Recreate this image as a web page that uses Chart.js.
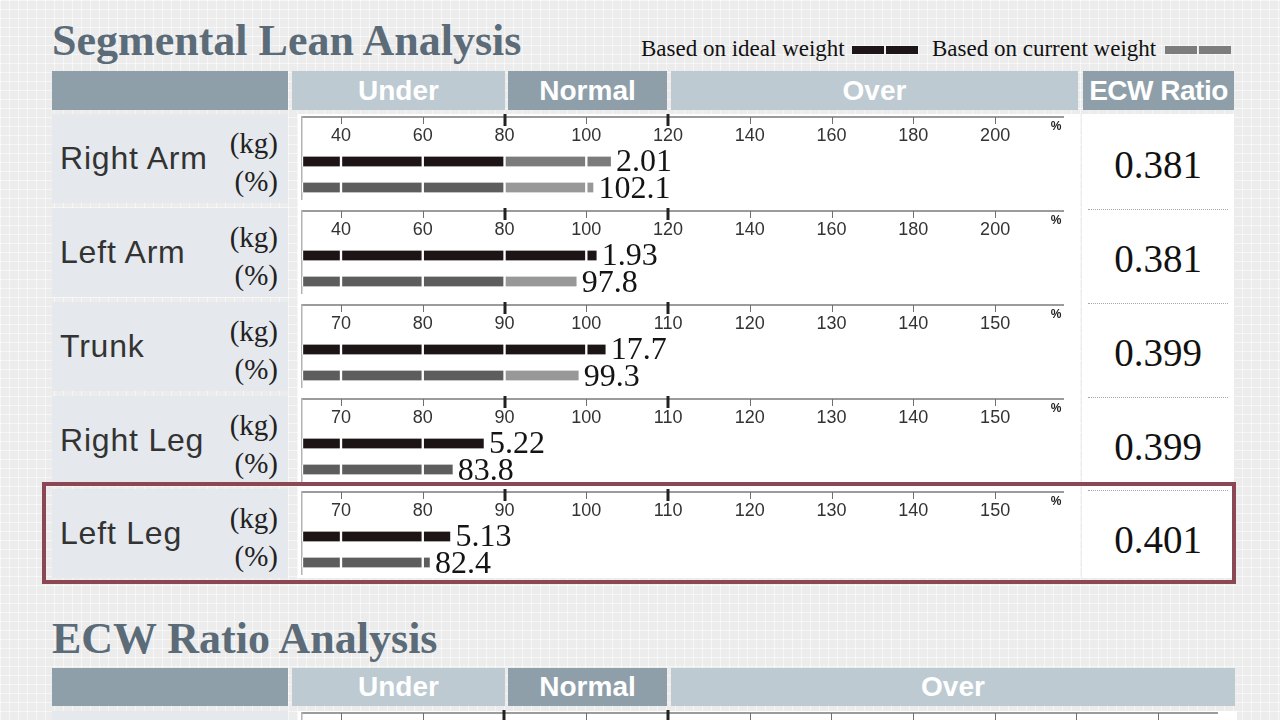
<!DOCTYPE html>
<html>
<head>
<meta charset="utf-8">
<script src="https://cdn.jsdelivr.net/npm/chart.js@4.4.1/dist/chart.umd.min.js"></script>
<style>
html, body { margin: 0; padding: 0; }
body {
    width: 1280px; height: 720px; overflow: hidden; position: relative;
    background-color: #ececec;
    background-image: linear-gradient(rgba(255,255,255,.5) 1px, transparent 1px),
                      linear-gradient(90deg, rgba(255,255,255,.5) 1px, transparent 1px);
    background-size: 9px 9px;
    font-family: "Liberation Sans", Arial, sans-serif;
}
.abs { position: absolute; }
.title { position: absolute; left: 52px; font-family: "Liberation Serif", serif; font-weight: bold; font-size: 44px; line-height: 44px; color: #5b6b78; white-space: nowrap; }
.legend { position: absolute; top: 37px; font-family: "Liberation Serif", serif; font-size: 23px; line-height: 23px; color: #111; white-space: nowrap; }
.sw { position: absolute; top: 46px; height: 8px; width: 32px; }
.hd { position: absolute; color: #fff; font-weight: bold; font-size: 28px; display: flex; align-items: center; justify-content: center; }
.dark { background: #8e9faa; }
.light { background: #bdcad2; }
.cell { position: absolute; left: 52px; width: 236px; height: 89px; background: #e5e9ee; }
.name { position: absolute; left: 8px; font-size: 32px; letter-spacing: 0.8px; color: #333; height: 40px; display: flex; align-items: center; white-space: nowrap; }
.unit { position: absolute; right: 10px; font-family: "Liberation Serif", serif; font-size: 29px; color: #222; height: 30px; display: flex; align-items: center; }
.ecw { position: absolute; left: 1082px; width: 152px; height: 44px; line-height: 44px; text-align: center; font-family: "Liberation Serif", serif; font-size: 39px; color: #111; }
.dots { position: absolute; left: 1088px; width: 140px; border-top: 1px dotted #a8a8a8; }
.wrap { position: absolute; left: 298px; width: 782px; height: 99px; }
</style>
</head>
<body>

<div class="title" style="top:19px">Segmental Lean Analysis</div>
<div class="legend" style="left:641px">Based on ideal weight</div>
<div class="sw" style="left:852px;background:#1d1517"></div>
<div class="sw" style="left:886px;background:#1d1517"></div>
<div class="legend" style="left:932px">Based on current weight</div>
<div class="sw" style="left:1165px;background:#7d7d7d"></div>
<div class="sw" style="left:1199px;background:#7d7d7d"></div>

<div class="hd dark" style="left:52px;top:71px;width:236px;height:39px"></div>
<div class="hd light" style="left:292px;top:71px;width:213px;height:39px">Under</div>
<div class="hd dark" style="left:508px;top:71px;width:159px;height:39px">Normal</div>
<div class="hd light" style="left:671px;top:71px;width:407px;height:39px">Over</div>
<div class="hd dark" style="left:1083px;top:71px;width:151px;height:39px;letter-spacing:-0.5px">ECW Ratio</div>

<div class="abs" style="left:298px;top:114px;width:782px;height:464px;background:#fff"></div>
<div class="abs" style="left:1082px;top:114px;width:152px;height:464px;background:#fff"></div>

<div id="rows"></div>

<div class="abs" style="left:42px;top:482px;width:1194px;height:102px;border:4px solid #8b4752;box-sizing:border-box;z-index:5"></div>

<div class="title" style="top:617px">ECW Ratio Analysis</div>
<div class="hd dark" style="left:52px;top:668px;width:236px;height:38px"></div>
<div class="hd light" style="left:292px;top:668px;width:213px;height:38px">Under</div>
<div class="hd dark" style="left:508px;top:668px;width:159px;height:38px">Normal</div>
<div class="hd light" style="left:671px;top:668px;width:564px;height:38px">Over</div>
<div class="abs" style="left:52px;top:711px;width:236px;height:20px;background:#e5e9ee"></div>
<div class="abs" style="left:298px;top:711px;width:939px;height:20px;background:#fff"></div>
<div class="abs" style="left:298px;top:697px;width:940px;height:60px"><canvas id="ecwAxis" width="940" height="60"></canvas></div>

<script>
// ===== DATA =====
const segments = ["Right Arm", "Left Arm", "Trunk", "Right Leg", "Left Leg"];
const kgText = ["2.01", "1.93", "17.7", "5.22", "5.13"];
const pctText = ["102.1", "97.8", "99.3", "83.8", "82.4"];
const kgBar = [106.3, 102.8, 102.5, 87.6, 83.5];
const pctBar = [102.0, 97.9, 99.2, 83.8, 81.0];
const kgGreyFrom = [80, null, null, null, null];   // right arm kg bar turns grey past 80
const ecwText = ["0.381", "0.381", "0.399", "0.399", "0.401"];

const armTicks = [40, 60, 80, 100, 120, 140, 160, 180, 200];
const legTicks = [70, 80, 90, 100, 110, 120, 130, 140, 150];
const armNormal = [80, 120];
const legNormal = [90, 110];
const scaleType = ["arm", "arm", "leg", "leg", "leg"];

const ecwTickLabels = ["0.320", "0.340", "0.360", "0.380", "0.390", "0.400", "0.410", "0.420", "0.430", "0.440", "0.450"];
const ecwNormal = [2, 4];

const rowTop = [114, 208, 302, 396, 489];

// ===== COLOURS =====
const BLACK = "#1d1416";
const KG_GREY = "#7b7b7b";
const PCT_DARK = "#5d5d5d";
const PCT_LIGHT = "#989898";

// ===== PLUGIN: tick marks, % sign, value labels =====
const rowMarks = {
    id: "rowMarks",
    afterDatasetsDraw(chart, args, o) {
        if (!o.texts) return;
        const { ctx, scales: { x, y } } = chart;
        ctx.save();
        ctx.font = '32px "Liberation Serif", serif';
        ctx.fillStyle = "#141414";
        ctx.textBaseline = "alphabetic";
        o.texts.forEach((t, k) => {
            const px = x.getPixelForValue(o.ends[k]);
            const py = y.getPixelForValue(k + 1);
            ctx.fillText(t, px + 4, py + 10);
        });
        ctx.restore();
    },
    afterDraw(chart, args, o) {
        const { ctx, chartArea, scales: { x } } = chart;
        ctx.save();
        x.ticks.forEach(t => {
            const px = Math.round(x.getPixelForValue(t.value));
            const bold = o.bold.includes(t.value);
            ctx.strokeStyle = bold ? "#222" : "#6f6f6f";
            ctx.lineWidth = bold ? 3 : 1;
            ctx.beginPath();
            ctx.moveTo(bold ? px : px + 0.5, chartArea.top - (bold ? 3 : 0));
            ctx.lineTo(bold ? px : px + 0.5, chartArea.top + (bold ? 9 : 7));
            ctx.stroke();
        });
        if (o.pct) {
            ctx.font = 'bold 12px "Liberation Sans", sans-serif';
            ctx.fillStyle = "#222";
            ctx.textAlign = "center";
            ctx.fillText("%", chartArea.right - 7, chartArea.top + 13);
        }
        ctx.restore();
    }
};

function axisOptions(ticks, min, max, labelFn) {
    return {
        type: "linear",
        position: "top",
        min: min,
        max: max,
        afterBuildTicks: s => { s.ticks = ticks.map(v => ({ value: v })); },
        grid: { display: false, drawTicks: false },
        border: { display: true, color: "#9b9b9b", width: 2 },
        ticks: {
            mirror: true,
            padding: 8,
            autoSkip: false,
            maxRotation: 0,
            color: "#333",
            font: { family: "Liberation Sans", size: 18 },
            callback: labelFn || (v => v)
        }
    };
}

// hidden linear index axis: 1 = kg bar, 2 = % bar (26px apart)
const Y_MIN = -0.71;
const Y_MAX = 2.48;
function yOptions() {
    return {
        type: "linear",
        reverse: true,
        offset: false,
        min: Y_MIN,
        max: Y_MAX,
        afterBuildTicks: s => {
            s.min = Y_MIN;
            s.max = Y_MAX;
            s.ticks = [{ value: Y_MIN }, { value: Y_MAX }];
        },
        display: true,
        ticks: { display: false },
        grid: { display: false, drawTicks: false },
        border: { display: true, color: "#b3b3b3", width: 1.5 }
    };
}

// split a bar into pieces at every tick it passes
function pieces(ticks, min, value) {
    const cuts = [min, ...ticks.filter(t => t < value), value];
    const out = [];
    for (let i = 0; i < cuts.length - 1; i++) out.push([cuts[i], cuts[i + 1]]);
    return out;
}

// ===== BUILD ROWS =====
const rowsEl = document.getElementById("rows");

segments.forEach((name, i) => {
    const T = rowTop[i];
    const arm = scaleType[i] === "arm";
    const ticks = arm ? armTicks : legTicks;
    const normal = arm ? armNormal : legNormal;
    const min = arm ? 30.46 : 65.23;
    const max = arm ? 216.6 : 158.3;

    let html = `
      <div class="cell" style="top:${T}px">
        <div class="name" style="top:${44 - 20}px">${name}</div>
        <div class="unit" style="top:${29 - 15}px">(kg)</div>
        <div class="unit" style="top:${67 - 15}px">(%)</div>
      </div>
      <div class="ecw" style="top:${T + 51 - 22}px">${ecwText[i]}</div>
      <div class="wrap" style="top:${T - 13}px"><canvas id="c${i}" width="782" height="99"></canvas></div>`;
    if (i > 0) html += `<div class="dots" style="top:${T + 1}px"></div>`;
    rowsEl.insertAdjacentHTML("beforeend", html);

    const kgP = pieces(ticks, min, kgBar[i]);
    const pctP = pieces(ticks, min, pctBar[i]);
    const n = Math.max(kgP.length, pctP.length);
    const datasets = [];
    for (let j = 0; j < n; j++) {
        const k = kgP[j];
        const p = pctP[j];
        const kgCol = (kgGreyFrom[i] !== null && k && k[0] >= kgGreyFrom[i]) ? KG_GREY : BLACK;
        const pctCol = (p && p[0] >= normal[0]) ? PCT_LIGHT : PCT_DARK;
        const data = [];
        const colors = [];
        if (k) { data.push({ x: k, y: 1 }); colors.push(kgCol); }
        if (p) { data.push({ x: p, y: 2 }); colors.push(pctCol); }
        datasets.push({
            data: data,
            backgroundColor: colors,
            borderColor: "#fff",
            borderWidth: { left: 1.5, right: 1.5, top: 0, bottom: 0 },
            borderSkipped: false,
            barThickness: 10,
            grouped: false
        });
    }

    new Chart(document.getElementById("c" + i), {
        type: "bar",
        data: { datasets },
        options: {
            indexAxis: "y",
            responsive: false,
            animation: false,
            layout: { padding: { left: 4, right: 17, top: 0, bottom: 0 } },
            plugins: {
                legend: { display: false },
                tooltip: { enabled: false },
                rowMarks: { bold: normal, pct: true, texts: [kgText[i], pctText[i]], ends: [kgBar[i], pctBar[i]] }
            },
            scales: {
                x: axisOptions(ticks, min, max),
                y: yOptions()
            }
        },
        plugins: [rowMarks]
    });
});

// ===== ECW RATIO AXIS (cut off by the frame) =====
new Chart(document.getElementById("ecwAxis"), {
    type: "bar",
    data: { labels: [""], datasets: [{ data: [null] }] },
    options: {
        indexAxis: "y",
        responsive: false,
        animation: false,
        layout: { padding: { left: 4, right: 21, top: 0, bottom: 0 } },
        plugins: {
            legend: { display: false },
            tooltip: { enabled: false },
            rowMarks: { bold: ecwNormal, pct: false }
        },
        scales: {
            x: axisOptions(ecwTickLabels.map((_, k) => k), -0.477, 10.72, v => ecwTickLabels[v]),
            y: { display: true, ticks: { display: false }, grid: { display: false, drawTicks: false }, border: { display: true, color: "#b3b3b3", width: 1.5 } }
        }
    },
    plugins: [rowMarks]
});
</script>
</body>
</html>
